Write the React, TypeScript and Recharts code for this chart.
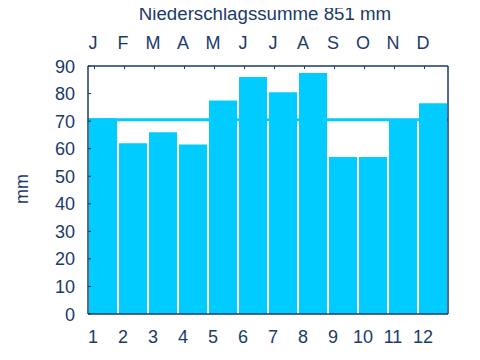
import { BarChart, Bar, XAxis, YAxis, ReferenceLine, Label } from 'recharts';

// Monatliche Niederschläge (mm)
const monthLetters = ['J', 'F', 'M', 'A', 'M', 'J', 'J', 'A', 'S', 'O', 'N', 'D'];
const monthNumbers = ['1', '2', '3', '4', '5', '6', '7', '8', '9', '10', '11', '12'];
const precipitation = [71, 62, 66, 61.5, 77.5, 86, 80.5, 87.5, 57, 57, 70, 76.5];
const yTicks = [0, 10, 20, 30, 40, 50, 60, 70, 80, 90];
const meanPrecipitation = 70.5;
const title = 'Niederschlagssumme 851 mm';
const unit = 'mm';

const NAVY = '#1a3a6c';
const CYAN = '#00ccff';
const FONT = '"Liberation Sans", Arial, sans-serif';

const data = monthNumbers.map((num, i) => ({
  num,
  month: monthLetters[i],
  value: precipitation[i],
}));

const LeftTick = ({ x, y, payload }: any) => (
  <g>
    <text x={x} y={y} dy={6.5} textAnchor="end" fill={NAVY} fontSize={18} fontFamily={FONT}>
      {payload.value}
    </text>
    <line x1={x + 13} x2={x + 16} y1={y} y2={y} stroke={NAVY} strokeWidth={1} />
  </g>
);

// die Monatsbeschriftung sitzt im Original etwas links der Balkenmitte
const TopTick = ({ x, y, payload }: any) => (
  <g>
    <text x={x - 10} y={y} textAnchor="middle" fill={NAVY} fontSize={18} fontFamily={FONT}>
      {payload.value}
    </text>
    <line x1={x - 8.5} x2={x - 8.5} y1={y + 17} y2={y + 20} stroke={NAVY} strokeWidth={1} />
  </g>
);

const BottomTick = ({ x, y, payload }: any) => (
  <text x={x - 10} y={y + 13} textAnchor="middle" fill={NAVY} fontSize={18} fontFamily={FONT}>
    {payload.value}
  </text>
);

const UnitLabel = ({ viewBox }: any) => {
  const cx = viewBox.x + 22;
  const cy = viewBox.y + viewBox.height / 2 - 1;
  return (
    <text
      x={cx}
      y={cy}
      transform={`rotate(-90 ${cx} ${cy})`}
      dy={6}
      textAnchor="middle"
      fill={NAVY}
      fontSize={18}
      fontFamily={FONT}
    >
      {unit}
    </text>
  );
};

export default function App() {
  return (
    <div
      style={{
        position: 'relative',
        margin: '-8px 0 0 -8px',
        width: 480,
        height: 360,
        background: '#fff',
      }}
    >
      <div
        style={{
          position: 'absolute',
          left: 25,
          top: 4,
          width: 480,
          textAlign: 'center',
          fontFamily: FONT,
          fontSize: 18.7,
          lineHeight: '20px',
          color: NAVY,
          zIndex: 1,
        }}
      >
        {title}
      </div>
      <BarChart
        width={480}
        height={360}
        data={data}
        margin={{ top: 0, right: 31, bottom: 0, left: 0 }}
        barCategoryGap={1}
      >
        <XAxis
          dataKey="num"
          height={46}
          tickSize={0}
          tickMargin={16}
          tickLine={false}
          tick={<BottomTick />}
          axisLine={{ stroke: NAVY, strokeWidth: 1.5 }}
          interval={0}
        />
        <XAxis
          xAxisId="top"
          dataKey="month"
          orientation="top"
          height={66}
          tickSize={0}
          tickMargin={17}
          tickLine={false}
          tick={<TopTick />}
          axisLine={{ stroke: NAVY, strokeWidth: 1.5 }}
          interval={0}
        />
        <YAxis
          width={88}
          domain={[0, 90]}
          ticks={yTicks}
          tickSize={0}
          tickMargin={13}
          tickLine={false}
          tick={<LeftTick />}
          axisLine={{ stroke: NAVY, strokeWidth: 1.5 }}
          interval={0}
        >
          <Label content={<UnitLabel />} />
        </YAxis>
        <YAxis
          yAxisId="right"
          orientation="right"
          width={1}
          domain={[0, 90]}
          tick={false}
          tickLine={false}
          axisLine={{ stroke: NAVY, strokeWidth: 1.5 }}
        />
        <Bar dataKey="value" fill={CYAN} isAnimationActive={false} />
        <ReferenceLine y={meanPrecipitation} stroke={CYAN} strokeWidth={3} />
      </BarChart>
    </div>
  );
}
